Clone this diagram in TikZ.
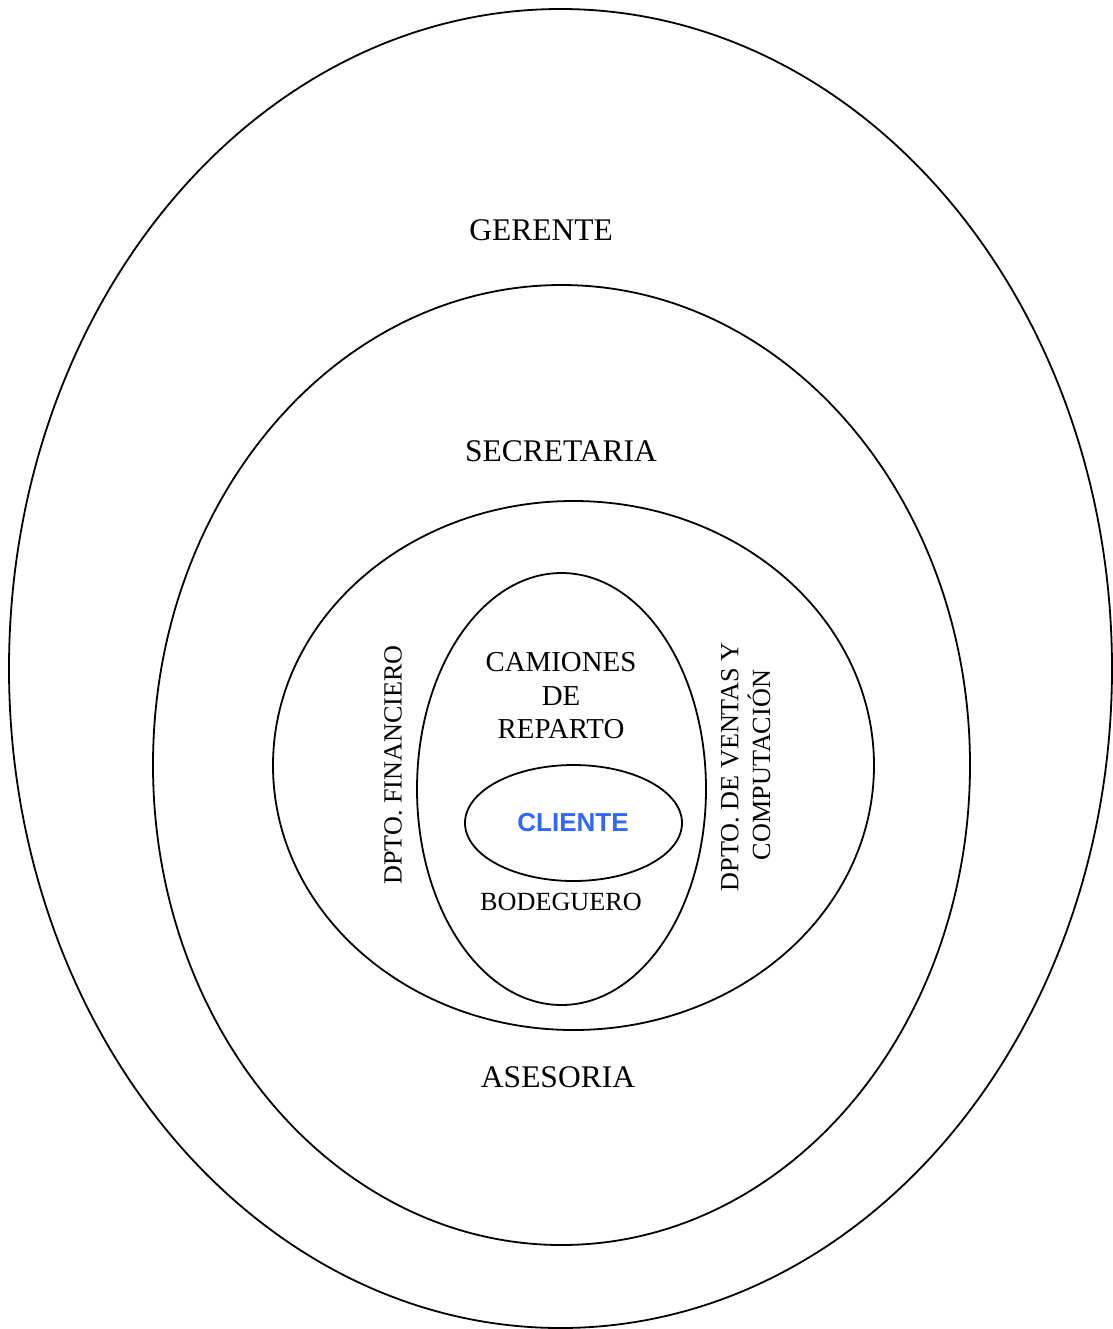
\documentclass[tikz,border=0pt]{standalone}
\usepackage{fontspec}
\setmainfont{Liberation Serif}
\newfontfamily\arialfont{Liberation Sans}
\usetikzlibrary{shapes.geometric}
\definecolor{clientblue}{RGB}{51,102,255}
\begin{document}
\begin{tikzpicture}[x=0.5pt,y=-0.5pt,
  ring/.style={draw,ellipse,line width=0.9pt,inner sep=0pt},
  biglabel/.style={anchor=base,inner sep=0pt,font=\fontsize{15.75}{18}\selectfont},
  midlabel/.style={anchor=base,inner sep=0pt,align=center,font=\fontsize{14.44}{16.5}\selectfont},
  smalllabel/.style={anchor=base,inner sep=0pt,font=\fontsize{13.1}{15}\selectfont},
  sidelabel/.style={smalllabel,rotate=90}]
\useasboundingbox (0,0) rectangle (1113,1329);
% nested rings, outermost first
\node[ring,minimum width=1103*0.5pt,minimum height=1319*0.5pt] (gerente) at (560.5,668.5) {};
\node[ring,minimum width=817*0.5pt,minimum height=960*0.5pt] (secretaria) at (561.5,765) {};
\node[ring,minimum width=601*0.5pt,minimum height=529*0.5pt] (deptos) at (573.5,765.5) {};
\node[ring,minimum width=289*0.5pt,minimum height=432*0.5pt] (camiones) at (561.5,789) {};
\node[ring,minimum width=217*0.5pt,minimum height=116*0.5pt] (cliente) at (573.5,823) {};
% labels
\node[biglabel] (tgerente) at (541,240) {GERENTE};
\node[biglabel] (tsecretaria) at (561,461.7) {SECRETARIA};
\node[biglabel] (tasesoria) at (558,1087.3) {ASESORIA};
\node[midlabel] (tcamiones) at (561,671.7) {CAMIONES};
\node[midlabel] (tde) at (561,705) {DE};
\node[midlabel] (treparto) at (561,738) {REPARTO};
\node[anchor=base,inner sep=0pt,text=clientblue,font=\arialfont\bfseries\fontsize{13}{15}\selectfont] (tcliente) at (573,831.7) {CLIENTE};
\node[smalllabel] (tbodeguero) at (561,910) {BODEGUERO};
\node[sidelabel] (tfinanciero) at (401.7,765) {DPTO. FINANCIERO};
\node[sidelabel] (tventas) at (738.3,766.7) {DPTO. DE VENTAS Y};
\node[sidelabel] (tcomputacion) at (770,765) {COMPUTACIÓN};
\end{tikzpicture}
\end{document}
